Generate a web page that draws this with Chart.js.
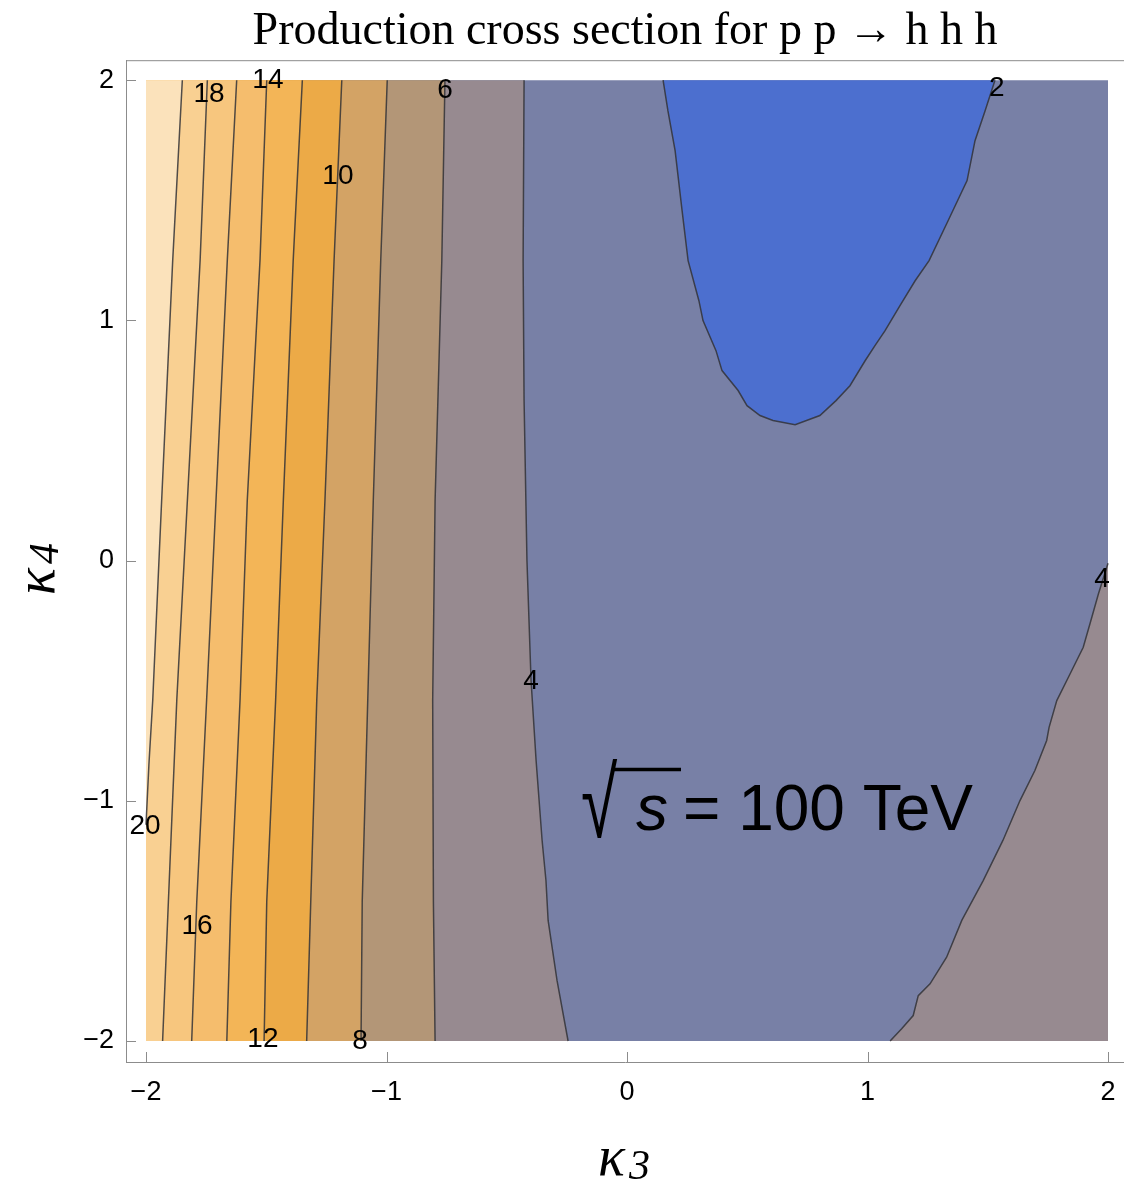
<!DOCTYPE html>
<html>
<head>
<meta charset="utf-8">
<script src="https://cdn.jsdelivr.net/npm/chart.js@4.4.1/dist/chart.umd.min.js"></script>
<style>
  html, body { margin: 0; padding: 0; background: #fff; }
  canvas { display: block; }
</style>
</head>
<body>
<canvas id="chart" width="1124" height="1182"></canvas>
<script>
const k4Rows = [2.0, 1.25, 0.25, -0.58, -1.42, -2.0];
// kappa3 position of each contour level along those rows
const c6  = [-0.757, -0.770, -0.798, -0.808, -0.805, -0.798];
const c8  = [-0.997, -1.024, -1.055, -1.078, -1.101, -1.106];
const c10 = [-1.186, -1.218, -1.256, -1.290, -1.315, -1.332];
const c12 = [-1.350, -1.388, -1.429, -1.461, -1.498, -1.509];
const c14 = [-1.498, -1.526, -1.579, -1.609, -1.647, -1.664];
const c16 = [-1.623, -1.662, -1.709, -1.748, -1.789, -1.810];
const c18 = [-1.745, -1.775, -1.828, -1.872, -1.907, -1.931];
// level 20 leaves through the left edge
const c20k4 = [2.0, 1.25, 0.25, -0.58, -0.85, -1.10];
const c20k3 = [-1.849, -1.889, -1.935, -1.972, -1.988, -2.0];

// level 4, left branch
const c4k4 = [2.0, 1.249, 0.666, 0.0, -0.499, -0.832, -1.165, -1.332, -1.498, -1.748, -2.0];
const c4k3 = [-0.428, -0.432, -0.428, -0.416, -0.399, -0.378, -0.353, -0.337, -0.328, -0.291, -0.245];

// level 4, lower right branch
const c4rk3 = [2.0, 1.960, 1.925, 1.897, 1.842, 1.787, 1.755, 1.745, 1.696, 1.634, 1.563, 1.481, 1.392, 1.329, 1.260, 1.211, 1.190, 1.142, 1.094];
const c4rk4 = [-0.011, -0.139, -0.263, -0.361, -0.472, -0.583, -0.694, -0.749, -0.874, -0.999, -1.165, -1.332, -1.498, -1.651, -1.762, -1.811, -1.894, -1.949, -2.0];

// level 2 (the blue pocket at the top)
const c2k3 = [0.150, 0.170, 0.200, 0.229, 0.254, 0.299, 0.316, 0.370, 0.395, 0.462, 0.499, 0.553, 0.607, 0.699,
              0.802, 0.869, 0.927, 0.990, 1.031, 1.073, 1.135, 1.198, 1.256, 1.335, 1.414, 1.447, 1.489, 1.530];
const c2k4 = [2.0, 1.873, 1.707, 1.457, 1.249, 1.082, 0.999, 0.874, 0.791, 0.708, 0.645, 0.604, 0.583, 0.566,
              0.604, 0.666, 0.728, 0.832, 0.895, 0.957, 1.061, 1.165, 1.249, 1.415, 1.582, 1.748, 1.873, 2.0];

// contour labels
const labelText = ['18', '14', '10', '6', '2', '20', '16', '12', '8', '4', '4'];
const labelK3 = [-1.738, -1.493, -1.202, -0.757, 1.538, -2.004, -1.788, -1.514, -1.110, -0.399, 1.975];
const labelK4 = [1.940, 2.0, 1.602, 1.956, 1.965, -1.107, -1.523, -1.994, -2.0, -0.504, -0.079];

const tickVals = [-2, -1, 0, 1, 2];

const bandColors = {
  lt2: '#4c6fcf', b2: '#7880a6', b4: '#978a90', b6: '#b39677', b8: '#d3a365',
  b10: '#ecaa47', b12: '#f3b557', b14: '#f5bd6d', b16: '#f7c67e', b18: '#f9d092', gt20: '#fbe2bb'
};

const pts = (xs, ys) => xs.map((x, i) => ({ x: x, y: ys[i] }));
const rowPts = (xs) => pts(xs, k4Rows);
// everything left of a contour that runs top to bottom
const leftOf = (p) => p.concat([{ x: -2, y: p[p.length - 1].y }, { x: -2, y: 2 }]);

function area(data, color, order) {
  return { data: data, backgroundColor: color, borderWidth: 0, fill: 'shape', order: order, pointRadius: 0 };
}
function contour(data) {
  return { data: data, borderColor: 'rgba(50,50,55,0.85)', borderWidth: 1.5, fill: false, order: 0, pointRadius: 0 };
}

const datasets = [
  area([{ x: -2, y: 2 }, { x: 2, y: 2 }, { x: 2, y: -2 }, { x: -2, y: -2 }], bandColors.b2, 100),
  area(leftOf(pts(c4k3, c4k4)), bandColors.b4, 90),
  area(pts(c4rk3, c4rk4).concat([{ x: 2, y: -2 }]), bandColors.b4, 89),
  area(leftOf(rowPts(c6)), bandColors.b6, 80),
  area(leftOf(rowPts(c8)), bandColors.b8, 70),
  area(leftOf(rowPts(c10)), bandColors.b10, 60),
  area(leftOf(rowPts(c12)), bandColors.b12, 50),
  area(leftOf(rowPts(c14)), bandColors.b14, 40),
  area(leftOf(rowPts(c16)), bandColors.b16, 30),
  area(leftOf(rowPts(c18)), bandColors.b18, 20),
  area(pts(c20k3, c20k4).concat([{ x: -2, y: 2 }]), bandColors.gt20, 10),
  area(pts(c2k3, c2k4), bandColors.lt2, 5),
  contour(pts(c4k3, c4k4)),
  contour(pts(c4rk3, c4rk4)),
  contour(pts(c2k3, c2k4)),
  contour(rowPts(c6)),
  contour(rowPts(c8)),
  contour(rowPts(c10)),
  contour(rowPts(c12)),
  contour(rowPts(c14)),
  contour(rowPts(c16)),
  contour(rowPts(c18)),
  contour(pts(c20k3, c20k4))
];

const fmt = (v) => (v < 0 ? '\u2212' + Math.abs(v) : String(v));

const decor = {
  id: 'decor',
  afterDraw(chart) {
    const ctx = chart.ctx;
    const xs = chart.scales.x, ys = chart.scales.y;
    const a = chart.chartArea;
    ctx.save();

    // frame top and inward ticks
    ctx.strokeStyle = '#8c8c8c';
    ctx.lineWidth = 1;
    ctx.beginPath();
    ctx.moveTo(a.left, a.top + 0.5);
    ctx.lineTo(a.right, a.top + 0.5);
    tickVals.forEach((v) => {
      const px = Math.round(xs.getPixelForValue(v)) + 0.5;
      ctx.moveTo(px, a.bottom);
      ctx.lineTo(px, a.bottom - 10);
      const py = Math.round(ys.getPixelForValue(v)) + 0.5;
      ctx.moveTo(a.left, py);
      ctx.lineTo(a.left + 10, py);
    });
    ctx.stroke();

    // contour labels
    ctx.fillStyle = '#000';
    ctx.font = '28px "Liberation Sans", Arial, sans-serif';
    ctx.textAlign = 'center';
    ctx.textBaseline = 'middle';
    labelText.forEach((t, i) => {
      ctx.fillText(t, xs.getPixelForValue(labelK3[i]), ys.getPixelForValue(labelK4[i]));
    });

    // sqrt(s) = 100 TeV
    ctx.textAlign = 'left';
    ctx.textBaseline = 'alphabetic';
    ctx.save();
    ctx.translate(581, 837);
    ctx.scale(1, 1.5);
    ctx.font = '66px "Liberation Sans", Arial, sans-serif';
    ctx.fillText('\u221A', 0, 0);
    ctx.restore();
    ctx.lineWidth = 3.5;
    ctx.strokeStyle = '#000';
    ctx.beginPath();
    ctx.moveTo(614, 769.5);
    ctx.lineTo(681, 769.5);
    ctx.stroke();
    ctx.font = 'italic 64px "Liberation Sans", Arial, sans-serif';
    ctx.fillText('s', 636, 830);
    ctx.font = '64px "Liberation Sans", Arial, sans-serif';
    ctx.fillText('= 100 TeV', 683, 830);

    // axis titles
    ctx.font = 'italic 56px "Liberation Serif", "Times New Roman", serif';
    ctx.fillText('\u03BA', 598, 1175);
    ctx.font = 'italic 42px "Liberation Serif", "Times New Roman", serif';
    ctx.fillText('3', 629, 1179);

    ctx.translate(54, 565);
    ctx.rotate(-Math.PI / 2);
    ctx.font = 'italic 56px "Liberation Serif", "Times New Roman", serif';
    ctx.fillText('\u03BA', -30, 0);
    ctx.font = 'italic 42px "Liberation Serif", "Times New Roman", serif';
    ctx.fillText('4', 1, 4);
    ctx.restore();
  }
};

new Chart(document.getElementById('chart'), {
  type: 'scatter',
  data: { datasets: datasets },
  options: {
    responsive: false,
    animation: false,
    showLine: true,
    elements: { line: { tension: 0 }, point: { radius: 0 } },
    layout: { padding: 0 },
    plugins: {
      legend: { display: false },
      tooltip: { enabled: false },
      title: {
        display: true,
        fullSize: false,
        text: 'Production cross section for p p \u2192 h h h',
        color: '#000',
        font: { family: '"Liberation Serif", "Times New Roman", serif', size: 46, weight: 'normal' },
        padding: { top: 4, bottom: 1 }
      }
    },
    scales: {
      x: {
        type: 'linear',
        min: -2.0832,
        max: 2.0665,
        afterBuildTicks: (s) => { s.ticks = tickVals.map((v) => ({ value: v })); },
        afterFit: (s) => { s.height = 120; s.paddingLeft = 0; s.paddingRight = 0; },
        grid: { display: false },
        border: { display: true, color: '#8c8c8c', width: 1 },
        ticks: {
          color: '#000',
          padding: 6,
          font: { family: '"Liberation Sans", Arial, sans-serif', size: 27 },
          callback: (v) => fmt(v),
          maxRotation: 0
        }
      },
      y: {
        type: 'linear',
        min: -2.0874,
        max: 2.0832,
        afterBuildTicks: (s) => { s.ticks = tickVals.map((v) => ({ value: v })); },
        afterFit: (s) => { s.width = 126; s.paddingTop = 0; s.paddingBottom = 0; },
        grid: { display: false },
        border: { display: true, color: '#8c8c8c', width: 1 },
        ticks: {
          color: '#000',
          padding: 4,
          font: { family: '"Liberation Sans", Arial, sans-serif', size: 27 },
          callback: (v) => fmt(v)
        }
      }
    }
  },
  plugins: [decor]
});
</script>
</body>
</html>
